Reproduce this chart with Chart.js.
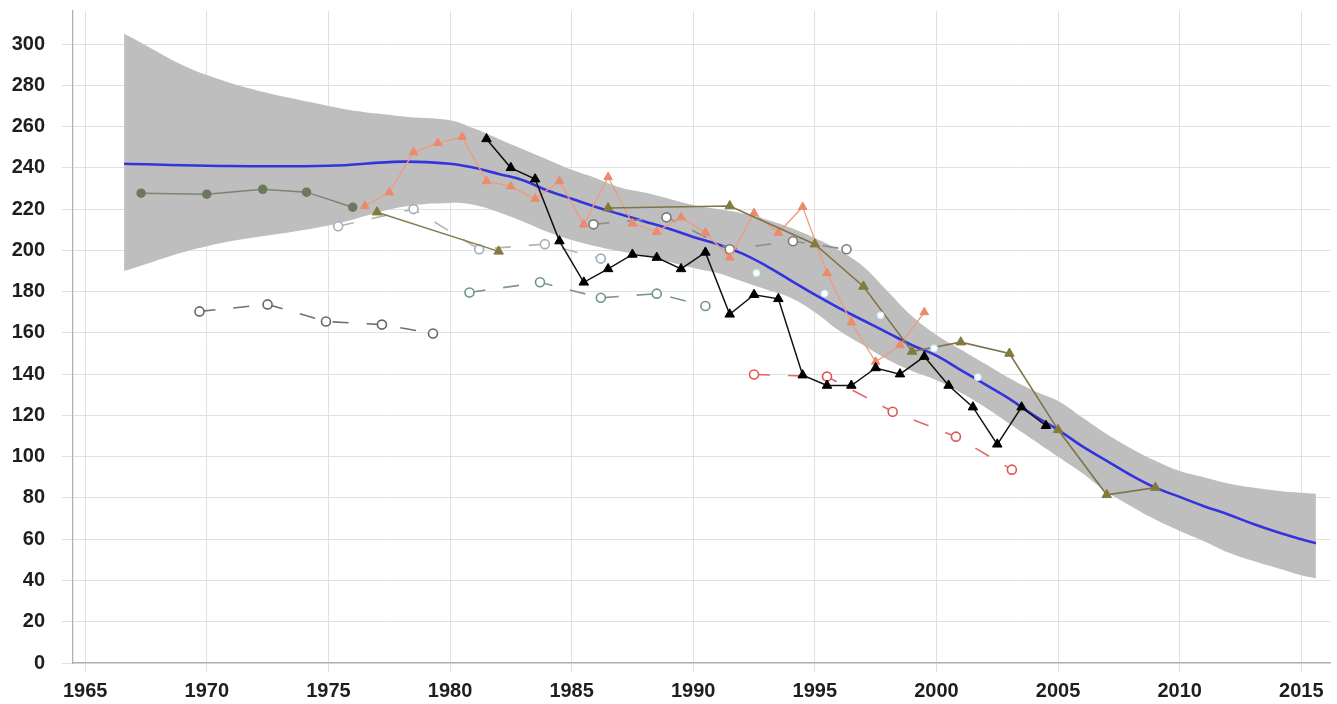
<!DOCTYPE html>
<html>
<head>
<meta charset="utf-8">
<script src="https://cdn.jsdelivr.net/npm/chart.js@4.4.1/dist/chart.umd.min.js"></script>
<style>
  html, body { margin: 0; padding: 0; background: #ffffff; }
  #wrap { width: 1337px; height: 704px; }
</style>
</head>
<body>
<div id="wrap"><canvas id="c" width="1337" height="704"></canvas></div>
<script>
// Smoothed trend and its confidence band
const trendYears  = [1966.6, 1970, 1975, 1978, 1980, 1981, 1982, 1983, 1984, 1985, 1986, 1987, 1988, 1989, 1990, 1991, 1992, 1993, 1994, 1995, 1996, 1997, 1998, 1999, 2000, 2001, 2002, 2003, 2004, 2005, 2006, 2007, 2008, 2009, 2010, 2011, 2012, 2013, 2014, 2015, 2015.6];
const trendValues = [242, 241, 241, 243, 242, 240, 237, 234, 229, 225, 221, 217.5, 214, 210.5, 206.5, 203, 198.5, 192.5, 185.5, 178.5, 172, 166, 160, 154, 149, 142, 135, 128, 120, 113, 105, 98, 91, 85, 80.5, 76, 72, 67.5, 63.5, 60, 58];
const bandUpper   = [305, 285, 270, 265, 263, 259, 254, 249, 244, 239, 235, 230.5, 228, 225, 222, 220, 218, 215, 211, 206, 200, 192, 180, 168, 159, 152, 145, 138, 132, 127, 119, 111, 104, 98, 93, 90, 87, 85, 83.5, 82.5, 82];
const bandLower   = [190, 202, 212, 221, 223, 222, 218.5, 214, 209, 205, 202, 199.5, 197.5, 194.5, 191.5, 189, 185, 181, 177, 170, 161, 154, 147, 141.5, 137, 131, 124, 116, 108, 100, 92, 83, 76, 69.5, 64, 59, 53.5, 49.5, 46, 42.5, 41];

// Green dotted series
const greenYears  = [1967.3, 1970.0, 1972.3, 1974.1, 1976.0];
const greenValues = [227.7, 227.2, 229.6, 228.2, 220.9];

// Olive triangle series
const oliveAYears  = [1977.0, 1982.0];
const oliveAValues = [218.5, 199.5];
const oliveBYears  = [1986.5, 1991.5, 1995.0, 1997.0, 1999.0, 2001.0, 2003.0, 2005.0, 2007.0, 2009.0];
const oliveBValues = [220.5, 221.5, 203, 182.5, 151, 155.5, 150, 113, 81.5, 85];

// Orange triangle series (annual)
const orangeYears  = [1976.5, 1977.5, 1978.5, 1979.5, 1980.5, 1981.5, 1982.5, 1983.5, 1984.5, 1985.5, 1986.5, 1987.5, 1988.5, 1989.5, 1990.5, 1991.5, 1992.5, 1993.5, 1994.5, 1995.5, 1996.5, 1997.5, 1998.5, 1999.5];
const orangeValues = [221.5, 228, 247.5, 252, 255, 233.5, 231, 225, 233.5, 212.5, 235.5, 213, 209, 216, 208.5, 196.5, 218, 208.5, 221, 189, 165, 146, 154, 170];

// Black triangle series (annual)
const blackYears  = [1981.5, 1982.5, 1983.5, 1984.5, 1985.5, 1986.5, 1987.5, 1988.5, 1989.5, 1990.5, 1991.5, 1992.5, 1993.5, 1994.5, 1995.5, 1996.5, 1997.5, 1998.5, 1999.5, 2000.5, 2001.5, 2002.5, 2003.5, 2004.5];
const blackValues = [254, 240, 234.5, 204.5, 184.5, 191, 198, 196.5, 191, 199, 169, 178.5, 176.5, 139.5, 134.5, 134.5, 143, 140, 148.5, 134.5, 124, 106, 124, 115];

// Dashed open-circle series
const greyDashYears  = [1969.7, 1972.5, 1974.9, 1977.2, 1979.3];
const greyDashValues = [170.4, 173.8, 165.5, 164, 159.7];
const paleDashYears  = [1975.4, 1978.5, 1981.2, 1983.9, 1986.2];
const paleDashValues = [211.7, 220, 200.5, 203, 196];
const midDashYears   = [1985.9, 1988.9, 1991.5, 1994.1, 1996.3];
const midDashValues  = [212.6, 216, 200.5, 204.4, 200.5];
const tealDashYears  = [1980.8, 1983.7, 1986.2, 1988.5, 1990.5];
const tealDashValues = [179.6, 184.5, 177, 179, 173];
const redDashYears   = [1992.5, 1995.5, 1998.2, 2000.8, 2003.1];
const redDashValues  = [139.8, 138.8, 121.8, 109.7, 93.7];

// Small white markers along the trend
const whiteYears  = [1992.6, 1995.4, 1997.7, 1999.9, 2001.7];
const whiteValues = [189, 179, 168.5, 152.5, 138.5];

// Axis tick settings
const xTickStep = 5;
const yTickStep = 20;

const pts = (xs, ys) => xs.map((x, i) => ({ x: x, y: ys[i] }));

const tickFont = { family: "'Liberation Sans', Arial, sans-serif", size: 20, weight: 'bold' };

// Lower "order" values are painted on top
function triSeries(xs, ys, color, lineColor, width, r, order) {
  return {
    data: pts(xs, ys), borderColor: lineColor, borderWidth: width, order: order,
    pointStyle: 'triangle', pointRadius: r, pointBackgroundColor: color,
    pointBorderColor: color, pointBorderWidth: 1, tension: 0, fill: false
  };
}
function dashSeries(xs, ys, color, lineColor, order) {
  return {
    data: pts(xs, ys), borderColor: lineColor, borderWidth: 1.6, borderDash: [16, 18], order: order,
    pointStyle: 'circle', pointRadius: 4.5, pointBackgroundColor: '#ffffff',
    pointBorderColor: color, pointBorderWidth: 1.6, tension: 0, fill: false
  };
}

new Chart(document.getElementById('c'), {
  type: 'line',
  data: {
    datasets: [
      { data: pts(trendYears, bandUpper), borderWidth: 0, pointRadius: 0, fill: '+1', order: 100,
        backgroundColor: 'rgb(190,190,190)', borderColor: 'rgba(0,0,0,0)', tension: 0.4 },
      { data: pts(trendYears, bandLower), borderWidth: 0, pointRadius: 0, fill: false, order: 99,
        borderColor: 'rgba(0,0,0,0)', tension: 0.4 },
      { data: pts(trendYears, trendValues), borderColor: '#3434de', borderWidth: 2.6, order: 50,
        pointRadius: 0, fill: false, tension: 0.4 },
      dashSeries(greyDashYears, greyDashValues, '#666666', '#707070', 20),
      dashSeries(paleDashYears, paleDashValues, '#9db0bf', '#b4b4b4', 20),
      dashSeries(midDashYears, midDashValues, '#7a7a7a', '#8c8c8c', 20),
      dashSeries(tealDashYears, tealDashValues, '#6f9488', '#7d968e', 20),
      dashSeries(redDashYears, redDashValues, '#e05656', '#e46a6a', 20),
      { data: pts(greenYears, greenValues), borderColor: '#7c8470', borderWidth: 1.5, order: 10,
        pointStyle: 'circle', pointRadius: 4, pointBackgroundColor: '#6b7a5f',
        pointBorderColor: '#6b7a5f', tension: 0, fill: false },
      triSeries(oliveAYears, oliveAValues, '#857a3e', '#857d4a', 1.5, 5.5, 8),
      triSeries(orangeYears, orangeValues, '#ec8a6c', '#ee9a80', 1.3, 5, 6),
      triSeries(oliveBYears, oliveBValues, '#847a3c', '#7e7548', 1.6, 5.5, 4),
      triSeries(blackYears, blackValues, '#000000', '#111111', 1.5, 5.5, 2),
      { data: pts(whiteYears, whiteValues), showLine: false, pointStyle: 'circle', order: 1,
        pointRadius: 3.5, pointBackgroundColor: '#f8fdff', pointBorderColor: '#c6e8f2',
        pointBorderWidth: 1 }
    ]
  },
  options: {
    responsive: false,
    animation: false,
    events: [],
    layout: { padding: { left: 12, top: 11, right: 0, bottom: 1 } },
    plugins: { legend: { display: false }, tooltip: { enabled: false } },
    scales: {
      x: {
        type: 'linear', min: 1964.5, max: 2016.2,
        afterFit: (s) => { s.paddingLeft = 0; s.paddingRight = 0; s.height = 40; },
        ticks: { stepSize: xTickStep, includeBounds: false, maxTicksLimit: 20, padding: 7,
                 autoSkip: false, font: tickFont, color: '#1e1e1e', callback: v => String(v), maxRotation: 0 },
        grid: { color: '#e0e0e0', lineWidth: 1, tickLength: 9 },
        border: { color: '#b0b0b0', width: 1.3 }
      },
      y: {
        type: 'linear', min: 0, max: 316,
        afterFit: (s) => { s.paddingTop = 0; s.paddingBottom = 0; s.width = 61; },
        ticks: { stepSize: yTickStep, includeBounds: false, maxTicksLimit: 20, padding: 17,
                 autoSkip: false, font: tickFont, color: '#1e1e1e', callback: v => String(v) },
        grid: { color: '#e0e0e0', lineWidth: 1, tickLength: 11 },
        border: { color: '#b0b0b0', width: 1.3 }
      }
    }
  }
});
</script>
</body>
</html>
